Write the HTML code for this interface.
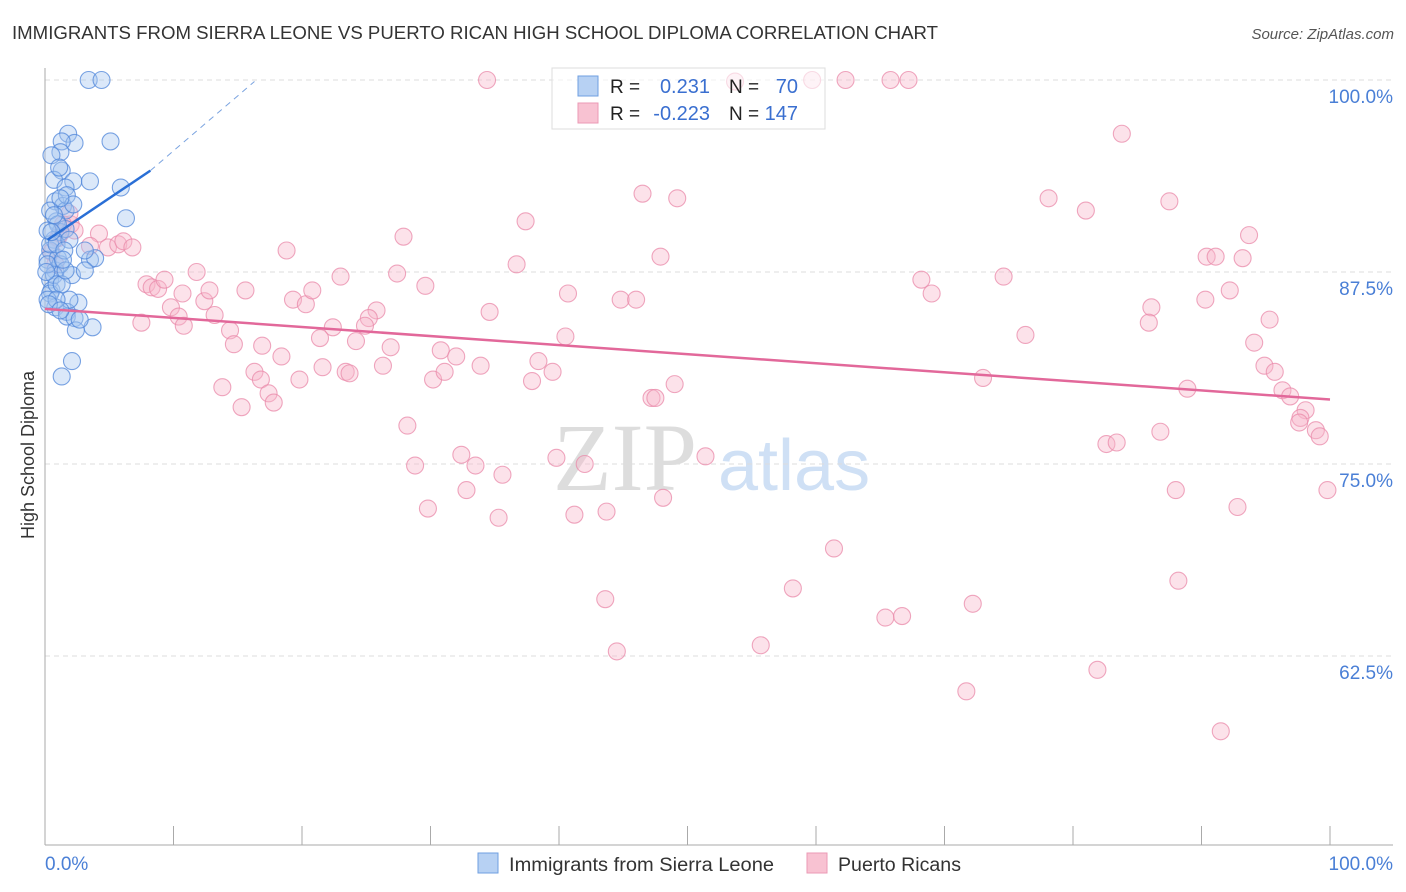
<!DOCTYPE html>
<html><head><meta charset="utf-8">
<style>
body{margin:0;background:#fff;font-family:"Liberation Sans",sans-serif;}
svg{display:block}
</style></head>
<body>
<svg id="chart" width="1406" height="892" xmlns="http://www.w3.org/2000/svg">
<text x="12" y="39" font-size="18" fill="#333" textLength="926" lengthAdjust="spacingAndGlyphs">IMMIGRANTS FROM SIERRA LEONE VS PUERTO RICAN HIGH SCHOOL DIPLOMA CORRELATION CHART</text>
<text x="1394" y="39" font-size="15" fill="#555" font-style="italic" text-anchor="end">Source: ZipAtlas.com</text>
<text x="553" y="490" font-size="96" fill="#ddd" font-family="Liberation Serif, serif">ZIP</text>
<text x="718" y="490" font-size="72" fill="#cfe0f5">atlas</text>
<text transform="translate(34,455) rotate(-90)" font-size="18" fill="#333" text-anchor="middle">High School Diploma</text>
<g id="grid"></g>
<g id="pink"></g>
<g id="blue"></g>
<g id="trends"></g>
<g>
<rect x="552" y="68" width="273" height="61" fill="#fff" fill-opacity="0.6" stroke="#ddd"/>
<rect x="578" y="76" width="20" height="20" fill="#b7d1f3" stroke="#6f9fe0"/>
<rect x="578" y="103" width="20" height="20" fill="#f8c2d2" stroke="#eb9ab5"/>
<text x="610" y="93" font-size="19" fill="#222">R = </text>
<text x="710" y="93" font-size="20" fill="#3a6fd0" text-anchor="end">0.231</text>
<text x="729" y="93" font-size="19" fill="#222">N = </text>
<text x="798" y="93" font-size="20" fill="#3a6fd0" text-anchor="end">70</text>
<text x="610" y="120" font-size="19" fill="#222">R = </text>
<text x="710" y="120" font-size="20" fill="#3a6fd0" text-anchor="end">-0.223</text>
<text x="729" y="120" font-size="19" fill="#222">N = </text>
<text x="798" y="120" font-size="20" fill="#3a6fd0" text-anchor="end">147</text>
</g>
<text x="45" y="870" font-size="19" fill="#4a7fd6">0.0%</text>
<text x="1393" y="870" font-size="19" fill="#4a7fd6" text-anchor="end">100.0%</text>
<g>
<rect x="478" y="853" width="20" height="20" fill="#b7d1f3" stroke="#6f9fe0"/>
<text x="509" y="871" font-size="19" fill="#333" textLength="265" lengthAdjust="spacingAndGlyphs">Immigrants from Sierra Leone</text>
<rect x="807" y="853" width="20" height="20" fill="#f8c2d2" stroke="#eb9ab5"/>
<text x="838" y="871" font-size="19" fill="#333" textLength="123" lengthAdjust="spacingAndGlyphs">Puerto Ricans</text>
</g>
</svg>
<script>
const yTicks=[100,87.5,75,62.5];
const yTickLabels=["100.0%","87.5%","75.0%","62.5%"];
const pinkX=[34.4,53.7,59.7,62.3,65.8,67.2,83.8,46.5,49.2,78.1,81.0,87.5,37.4,27.9,18.8,93.7,47.9,36.7,90.4,91.1,93.2,27.4,23.0,29.6,74.6,68.2,92.2,69.0,40.7,44.8,46.0,19.3,20.3,20.8,15.6,34.6,25.8,25.2,86.1,85.9,95.3,90.3,22.4,24.9,21.4,24.2,40.5,76.3,94.1,16.9,30.8,32.0,26.9,33.9,38.4,18.4,26.3,94.9,95.7,16.3,21.6,23.4,23.7,30.2,31.1,19.8,39.5,37.9,13.8,16.8,49.0,17.4,17.8,15.3,47.2,47.5,96.3,96.9,73.0,88.9,28.2,86.8,82.6,83.4,98.1,97.7,97.6,98.9,99.2,28.8,32.4,33.5,35.6,39.8,42.0,51.4,32.8,48.1,88.0,99.8,29.8,35.3,41.2,43.7,92.8,61.4,88.2,43.6,58.2,72.2,65.4,66.7,44.5,55.7,81.9,71.7,91.5,7.9,8.3,8.8,9.3,11.8,10.7,12.4,9.8,10.4,10.8,7.5,13.2,14.4,14.7,12.8,4.2,4.9,5.7,6.1,6.8,3.5,2.0,1.9,1.4,1.0,0.5,0.8,1.2,2.3];
const pinkY=[100,99.9,100,100,100,100,96.5,92.6,92.3,92.3,91.5,92.1,90.8,89.8,88.9,89.9,88.5,88.0,88.5,88.5,88.4,87.4,87.2,86.6,87.2,87.0,86.3,86.1,86.1,85.7,85.7,85.7,85.4,86.3,86.3,84.9,85.0,84.5,85.2,84.2,84.4,85.7,83.9,84.0,83.2,83.0,83.3,83.4,82.9,82.7,82.4,82.0,82.6,81.4,81.7,82.0,81.4,81.4,81.0,81.0,81.3,81.0,80.9,80.5,81.0,80.5,81.0,80.4,80.0,80.5,80.2,79.6,79.0,78.7,79.3,79.3,79.8,79.4,80.6,79.9,77.5,77.1,76.3,76.4,78.5,78.0,77.7,77.2,76.8,74.9,75.6,74.9,74.3,75.4,75.0,75.5,73.3,72.8,73.3,73.3,72.1,71.5,71.7,71.9,72.2,69.5,67.4,66.2,66.9,65.9,65.0,65.1,62.8,63.2,61.6,60.2,57.6,86.7,86.5,86.4,87.0,87.5,86.1,85.6,85.2,84.6,84.0,84.2,84.7,83.7,82.8,86.3,90.0,89.1,89.3,89.5,89.1,89.2,90.6,91.3,90.6,89.7,88.8,88.0,90.0,90.2];
const blueX=[3.4,4.4,5.1,1.8,2.3,1.3,1.2,0.5,1.3,0.7,2.2,3.5,1.6,5.9,0.8,1.4,1.6,0.9,1.2,6.3,1.6,0.7,0.4,0.2,0.8,0.4,2.1,1.0,3.5,3.9,3.1,0.5,0.4,2.6,0.8,1.7,1.7,2.3,3.7,2.4,2.1,1.3,0.4,0.9,1.2,0.7,0.2,0.4,1.0,0.2,1.9,1.5,0.9,3.1,1.7,2.2,0.7,1.2,1.3,0.2,0.5,1.6,1.9,0.9,1.1,2.7,0.1,0.3,1.4,1.2];
const blueY=[100,100,96.0,96.5,95.9,96.0,95.3,95.1,94.1,93.5,93.4,93.4,93.0,93.0,92.1,91.8,91.5,90.8,90.1,91.0,90.3,89.6,88.9,88.3,87.6,87.0,87.3,88.4,88.3,88.4,87.6,86.3,86.1,85.5,85.2,84.9,84.6,84.5,83.9,83.7,81.7,80.7,89.3,89.3,88.0,87.3,85.7,91.5,90.6,90.2,89.6,88.9,86.7,88.9,92.5,91.9,91.2,92.3,86.7,88.0,90.1,87.6,85.7,85.7,94.3,84.4,87.5,85.4,88.3,85.0];
const pinkTrend=[[0,85.1],[100,79.2]];
const blueTrend=[[0.2,89.6],[8.2,94.1]];
const blueTrendExt=[[8.2,94.1],[16.3,99.9]];
const NS="http://www.w3.org/2000/svg";
const xs=v=>45+v*12.85;
const ys=v=>80+(100-v)*15.36;
function mk(tag,attrs,parent){const e=document.createElementNS(NS,tag);for(const k in attrs)e.setAttribute(k,attrs[k]);parent.appendChild(e);return e;}
const grid=document.getElementById('grid');
yTicks.forEach((t,i)=>{
  const l=mk('line',{x1:45,x2:1393,y1:ys(t),y2:ys(t),stroke:'#ddd','stroke-dasharray':'5,4'},grid);
  
  
  const tx=mk('text',{x:1393,y:ys(t)+23,'font-size':19,fill:'#4a7fd6','text-anchor':'end'},grid);
  tx.textContent=yTickLabels[i];
  
  
});
const ax=mk('line',{x1:45,x2:45,y1:68,y2:845,stroke:'#aaa'},grid);


const bx=mk('line',{x1:45,x2:1393,y1:845,y2:845,stroke:'#aaa'},grid);


for(let k=0;k<=10;k++){
  const t=mk('line',{x1:xs(k*10),x2:xs(k*10),y1:826,y2:845,stroke:'#aaa'},grid);
  
  
}
function dots(X,Y,g,fill,stroke,name){
  X.forEach((x,i)=>{
    const c=mk('circle',{cx:xs(x),cy:ys(Y[i]),r:8.5,fill:fill,'fill-opacity':0.4,stroke:stroke,'stroke-opacity':0.75,'stroke-width':1.1},g);
    
    
  });
}
dots(pinkX,pinkY,document.getElementById('pink'),'#f7b6ca','#e98aaa','puerto-rican-point');
dots(blueX,blueY,document.getElementById('blue'),'#a6c6ef','#4f86d9','sierra-leone-point');
const tr=document.getElementById('trends');
function line(p,stroke,w,dash,name){
  const l=mk('line',{x1:xs(p[0][0]),y1:ys(p[0][1]),x2:xs(p[1][0]),y2:ys(p[1][1]),stroke:stroke,'stroke-width':w},tr);
  if(dash)l.setAttribute('stroke-dasharray',dash);
  
  
}
line(pinkTrend,'#e2689a',2.5,null,'puerto-rican-trendline');
line(blueTrend,'#2a6fd6',2.5,null,'sierra-leone-trendline');
line(blueTrendExt,'#7aa3e0',1,'6,5','sierra-leone-trendline-extension');
</script>
</body></html>
